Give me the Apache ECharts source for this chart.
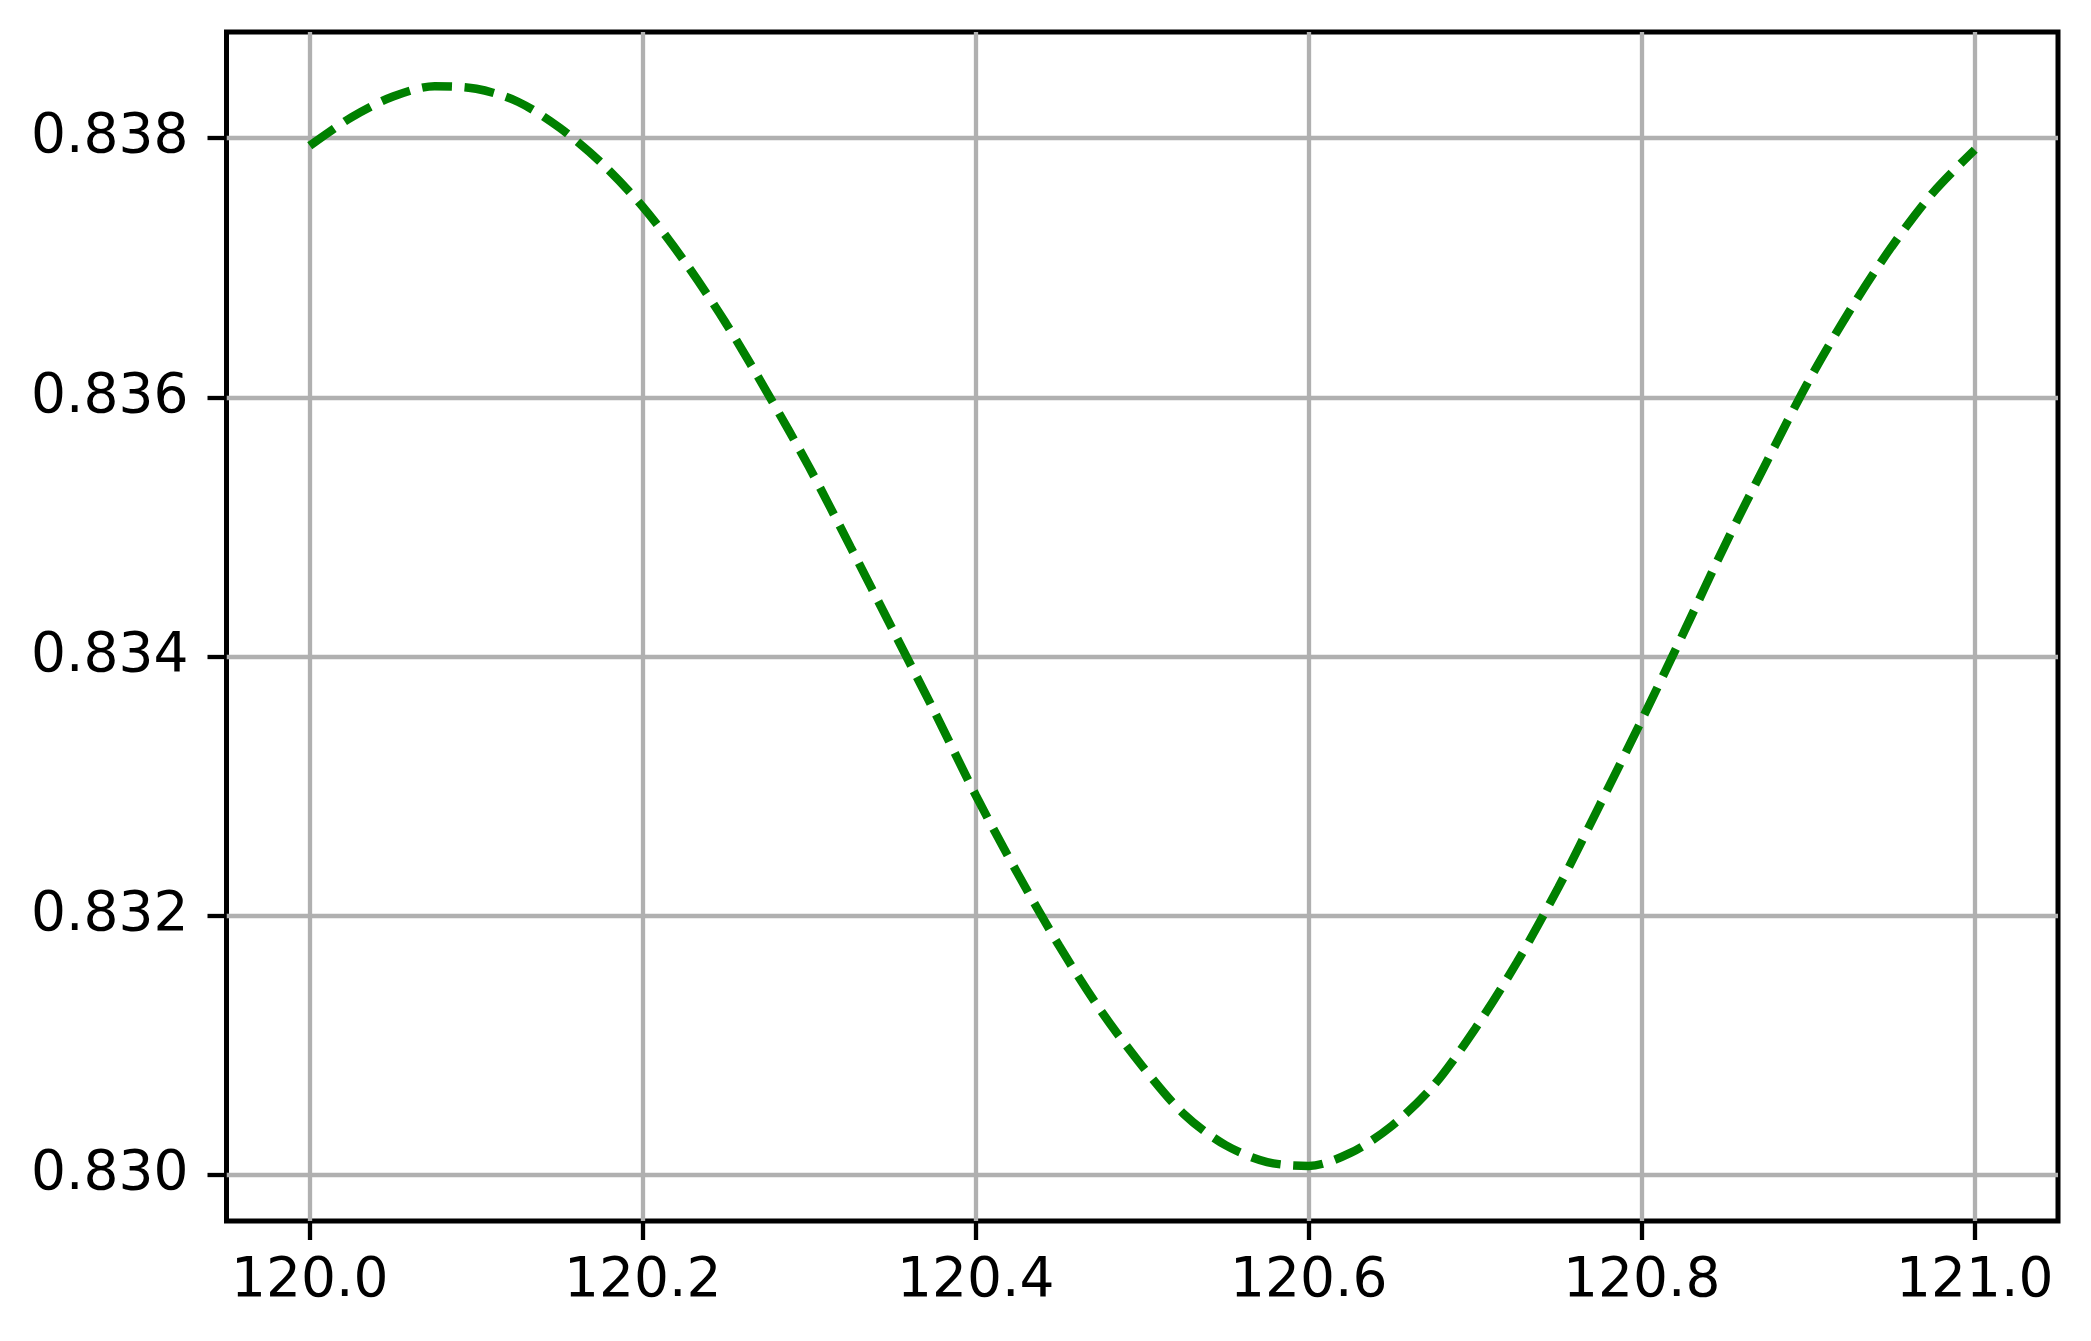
<!DOCTYPE html>
<html>
<head>
<meta charset="utf-8">
<script src="https://cdn.jsdelivr.net/npm/echarts@6/dist/echarts.min.js"></script>
<style>
  html, body { margin: 0; padding: 0; background: #fff; }
  #chart { width: 2091px; height: 1341px; }
</style>
</head>
<body>
<div id="chart"></div>
<script>
// x 位置（每 0.025 读一个点）
const xValues = [
  120.000, 120.025, 120.050, 120.075, 120.100, 120.125, 120.150, 120.175, 120.200, 120.225,
  120.250, 120.275, 120.300, 120.325, 120.350, 120.375, 120.400, 120.425, 120.450, 120.475,
  120.500, 120.525, 120.550, 120.575, 120.600, 120.625, 120.650, 120.675, 120.700, 120.725,
  120.750, 120.775, 120.800, 120.825, 120.850, 120.875, 120.900, 120.925, 120.950, 120.975,
  121.000
]
// 曲线的值（从图上读出来的）
const yValues = [
  0.83794, 0.83816, 0.83832, 0.83840, 0.83838, 0.83828, 0.83808, 0.83781, 0.83747, 0.83705,
  0.83657, 0.83603, 0.83546, 0.83484, 0.83421, 0.83358, 0.83293, 0.83233, 0.83177, 0.83127,
  0.83084, 0.83047, 0.83023, 0.83010, 0.83007, 0.83017, 0.83038, 0.83069, 0.83113, 0.83164,
  0.83222, 0.83286, 0.83351, 0.83418, 0.83486, 0.83550, 0.83612, 0.83667, 0.83716, 0.83758,
  0.83791
]
// 刻度
const xTicks = [120.0, 120.2, 120.4, 120.6, 120.8, 121.0]
const yTicks = [0.830, 0.832, 0.834, 0.836, 0.838]

const chart = echarts.init(document.getElementById('chart'), null, { renderer: 'canvas' })

const labelFont = {
  color: '#000',
  fontFamily: 'DejaVu Sans',
  fontSize: 55
}
const gridLine = {
  show: true,
  lineStyle: { color: '#b0b0b0', width: 4.3, type: 'solid' }
}

const options = {
  animation: false,
  backgroundColor: '#fff',
  // 绘图区 + 四周的黑框
  grid: {
    left: 226.5,
    right: 33,
    top: 32,
    bottom: 120,
    containLabel: false,
    outerBoundsMode: 'none',
    show: true,
    borderColor: '#000',
    borderWidth: 5,
    backgroundColor: 'transparent'
  },
  xAxis: {
    type: 'value',
    min: 119.95,
    max: 121.05,
    axisLine: { show: false, onZero: false },
    axisTick: {
      show: true,
      length: 19,
      customValues: xTicks,
      lineStyle: { color: '#000', width: 4.3 }
    },
    axisLabel: {
      ...labelFont,
      margin: 33,
      customValues: xTicks,
      formatter: (v) => v.toFixed(1)
    },
    splitLine: gridLine
  },
  yAxis: {
    type: 'value',
    min: 0.829645,
    max: 0.838818,
    axisLine: { show: false, onZero: false },
    axisTick: {
      show: true,
      length: 19,
      customValues: yTicks,
      lineStyle: { color: '#000', width: 4.3 }
    },
    axisLabel: {
      ...labelFont,
      margin: 38,
      customValues: yTicks,
      formatter: (v) => v.toFixed(3)
    },
    splitLine: gridLine
  },
  series: [
    {
      type: 'line',
      data: xValues.map((x, i) => [x, yValues[i]]),
      showSymbol: false,
      smooth: 0.3,
      lineStyle: {
        color: '#008000',
        width: 8.5,
        type: [30, 12.5],
        cap: 'butt'
      },
      z: 3
    }
  ]
}

chart.setOption(options, true)
</script>
</body>
</html>
